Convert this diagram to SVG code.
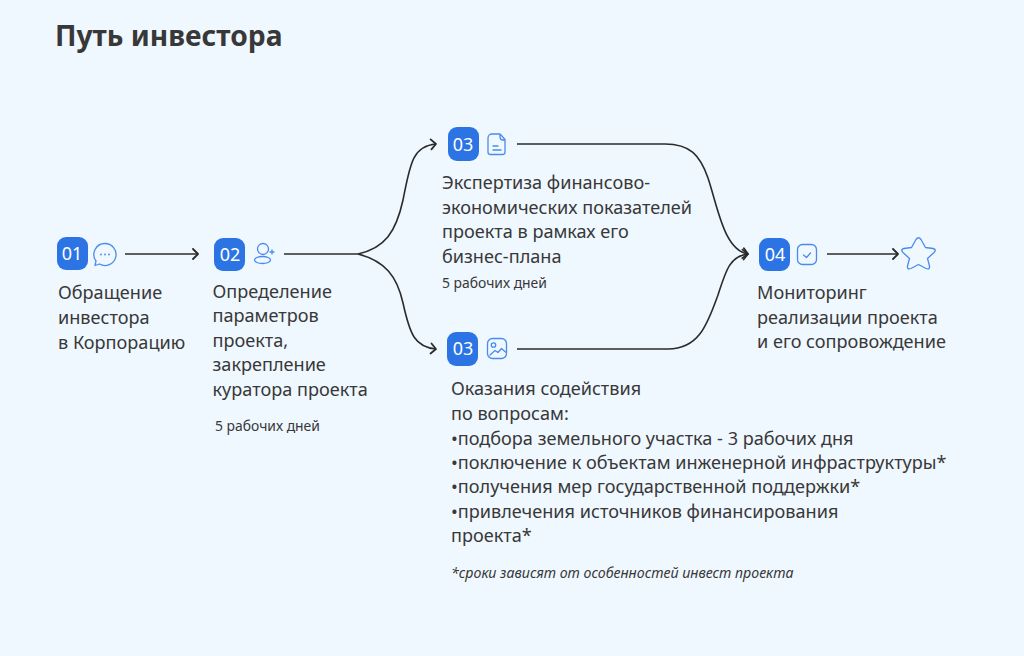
<svg xmlns="http://www.w3.org/2000/svg" width="1024" height="656" viewBox="0 0 1024 656">
<style>
text{font-family:"Noto Sans","Open Sans","Liberation Sans",sans-serif;fill:#383838}
.t{font-size:18.1px}
.s{font-size:13.9px}
.b{fill:#2c74e4}
.n{fill:#fff;font-size:18px;text-anchor:middle}
.i{fill:none;stroke:#4a8cec;stroke-width:1.3;stroke-linecap:round;stroke-linejoin:round}
.c{fill:none;stroke:#2b2b2b;stroke-width:1.6}
.h{fill:none;stroke:#2b2b2b;stroke-width:1.8;stroke-linecap:round;stroke-linejoin:round}
</style>
<defs>
<marker id="a" markerUnits="userSpaceOnUse" markerWidth="12" markerHeight="14" refX="9" refY="7" orient="auto"><path class="h" d="M4 2L9 7L4 12"/></marker>
</defs>
<rect width="1024" height="656" fill="#eff7ff"/>
<text id="title" x="55" y="46" style="font-size:28.2px;font-weight:700">Путь инвестора</text>
<g id="connectors">
<path class="c" marker-end="url(#a)" d="M125 254H198"/>
<path class="c" d="M284 254H358"/>
<path class="c" marker-end="url(#a)" d="M358 254C385 248 396 232 403 200C410 165 412 146 436 144"/>
<path class="c" marker-end="url(#a)" d="M358 254C385 261 397 276 403 303C410 335 415 347 436 349"/>
<path class="c" marker-end="url(#a)" d="M517 144H665C690 144 700 155 708 178C718 208 724 250 748 254"/>
<path class="c" marker-end="url(#a)" d="M517 349H668C700 349 708 322 718 295C726 270 730 256 748 254"/>
<path class="c" marker-end="url(#a)" d="M827 254H898"/>
</g>
<g id="node-01">
<rect class="b" x="57" y="237" width="31" height="33" rx="9"/>
<text class="n" x="72" y="260">01</text>
<path class="i" d="M105 243.500a11 11 0 1 1 -5.500 20.500l-4.500 1.500 1-4.500A11 11 0 0 1 105 243.500Z"/>
<circle cx="101" cy="254.500" r=".9" fill="#4a8cec"/><circle cx="105" cy="254.500" r=".9" fill="#4a8cec"/><circle cx="109" cy="254.500" r=".9" fill="#4a8cec"/>
<text class="t"><tspan x="58" y="299">Обращение</tspan><tspan x="58" y="324">инвестора</tspan><tspan x="58" y="349">в Корпорацию</tspan></text>
</g>
<g id="node-02">
<rect class="b" x="214" y="238" width="31" height="33" rx="9"/>
<text class="n" x="230" y="261">02</text>
<circle class="i" cx="263" cy="249" r="5.500"/>
<ellipse class="i" cx="262.500" cy="260" rx="8" ry="3.500"/>
<path class="i" d="M270 252h4M272 250v4"/>
<text class="t"><tspan x="212.500" y="298">Определение</tspan><tspan x="212.500" y="322">параметров</tspan><tspan x="212.500" y="347">проекта,</tspan><tspan x="212.500" y="371">закрепление</tspan><tspan x="212.500" y="396">куратора проекта</tspan></text>
<text class="s" x="215" y="431">5 рабочих дней</text>
</g>
<g id="node-03a">
<rect class="b" x="448" y="127" width="31" height="34" rx="9"/>
<text class="n" x="463" y="151">03</text>
<path class="i" d="M500 134h-8a4 4 0 0 0-4 4v14a2.500 2.500 0 0 0 2.500 2.500h12a2.500 2.500 0 0 0 2.500-2.500v-12.500ZM500 134v3a3 3 0 0 0 3 3h2M493 146h5M493 150h8"/>
<text class="t"><tspan x="442" y="189">Экспертиза финансово-</tspan><tspan x="442" y="214">экономических показателей</tspan><tspan x="442" y="238">проекта в рамках его</tspan><tspan x="442" y="263">бизнес-плана</tspan></text>
<text class="s" x="442" y="288">5 рабочих дней</text>
</g>
<g id="node-03b">
<rect class="b" x="447" y="332" width="31" height="34" rx="9"/>
<text class="n" x="463" y="355">03</text>
<rect class="i" x="487.500" y="338.500" width="19" height="20" rx="5"/>
<circle class="i" cx="493.500" cy="345" r="2.200"/>
<path class="i" d="M490 355l5-4.500 3 2 3.500-4 4 3.500"/>
<text class="t"><tspan x="451" y="395">Оказания содействия</tspan><tspan x="451" y="420">по вопросам:</tspan><tspan x="451" y="445">•подбора земельного участка - 3 рабочих дня</tspan><tspan x="451" y="469">•поключение к объектам инженерной инфраструктуры*</tspan><tspan x="451" y="493">•получения мер государственной поддержки*</tspan><tspan x="451" y="518">•привлечения источников финансирования</tspan><tspan x="451" y="542">проекта*</tspan></text>
<text class="s" x="451" y="578" font-style="italic" style="font-size:14.2px">*сроки зависят от особенностей инвест проекта</text>
</g>
<g id="node-04">
<rect class="b" x="759" y="238" width="31" height="33" rx="9"/>
<text class="n" x="775" y="261">04</text>
<rect class="i" x="797.500" y="244.500" width="19" height="20" rx="5"/>
<path class="i" d="M803.500 255l3 2.500 4-4.500"/>
<text class="t"><tspan x="757" y="299">Мониторинг</tspan><tspan x="757" y="324">реализации проекта</tspan><tspan x="757" y="348">и его сопровождение</tspan></text>
</g>
<g id="star">
<path class="i" d="M916 239.500Q918.500 236 921 239.500L925.500 247.500L933 248.500Q937 249.500 934 252.500L927.500 258.500L929.500 266Q930 270 926 268.500L918.500 264.500L911 268.500Q907 270 907.500 266L909.500 258.500L903 252.500Q900 249.500 904 248.500L911.500 247.500Z"/>
</g>
</svg>
